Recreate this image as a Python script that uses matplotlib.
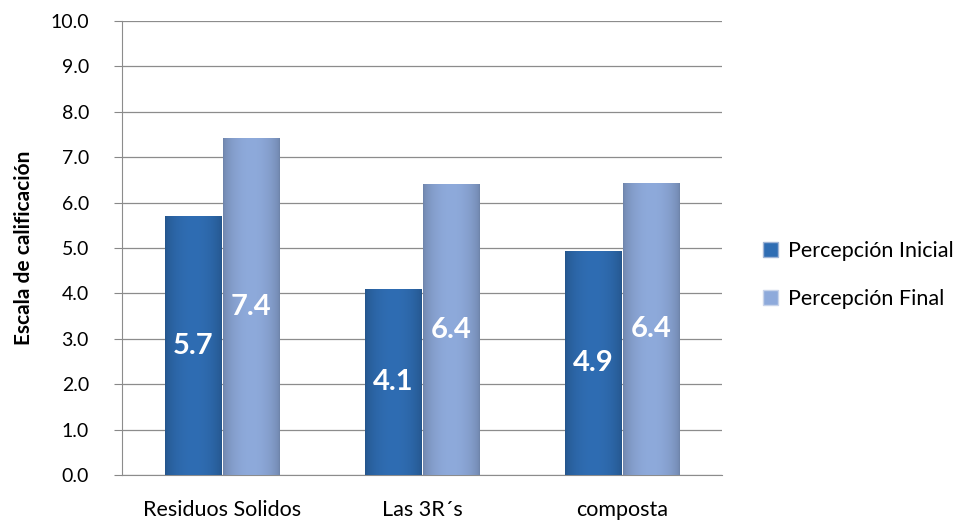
import numpy as np
import matplotlib.pyplot as plt
from matplotlib.patches import Patch

categories = ['Residuos Solidos', 'Las 3R´s', 'composta']
inicial = [5.7, 4.1, 4.94]
final = [7.42, 6.4, 6.44]
series_names = ['Percepción Inicial', 'Percepción Final']
yticks = np.arange(0, 10.1, 1.0)

plt.rcParams['font.family'] = ['Lato', 'DejaVu Sans']

c_ini = '#2f6db3'
c_fin = '#8eaadb'

fig = plt.figure(figsize=(9.63, 5.27), dpi=100)
ax = fig.add_axes([0.127, 0.0987, 0.623, 0.8615])

x = np.arange(len(categories))
w = 0.285
off = w / 2 + 0.003


def gradient_bar(ax, xc, h, color, width):
    bar = ax.bar(xc, h, width, color=color, edgecolor='none', zorder=2)[0]
    rgb = np.array(plt.matplotlib.colors.to_rgb(color))
    t = np.linspace(-1, 1, 64)
    shade = 0.78 + 0.22 * np.cos(t * np.pi / 2) ** 0.6
    img = np.clip(rgb[None, None, :] * shade[None, :, None], 0, 1)
    im = ax.imshow(img, extent=(xc - width / 2, xc + width / 2, 0, h),
                   aspect='auto', zorder=3, interpolation='bilinear')
    im.set_clip_path(bar)
    return bar


for i in range(len(categories)):
    gradient_bar(ax, x[i] - off, inicial[i], c_ini, w)
    gradient_bar(ax, x[i] + off, final[i], c_fin, w)
    ax.text(x[i] - off, inicial[i] / 2, f'{inicial[i]:.1f}', ha='center', va='center',
            color='white', fontsize=21, fontweight='bold', zorder=4)
    ax.text(x[i] + off, final[i] / 2, f'{final[i]:.1f}', ha='center', va='center',
            color='white', fontsize=21, fontweight='bold', zorder=4)

ax.set_xlim(-0.5, 2.5)
ax.set_ylim(0, 10)
ax.set_yticks(yticks)
ax.set_yticklabels([f'{v:.1f}' for v in yticks], fontsize=14)
ax.set_xticks(x)
ax.set_xticklabels(categories, fontsize=15.5)
ax.tick_params(axis='x', length=0, pad=18)
ax.tick_params(axis='y', length=6, color='#888888', pad=18)
ax.grid(axis='y', color='#8c8c8c', linewidth=0.9, zorder=0)
ax.set_axisbelow(True)
for s in ['top', 'right']:
    ax.spines[s].set_visible(False)
for s in ['left', 'bottom']:
    ax.spines[s].set_color('#8c8c8c')
ax.set_ylabel('Escala de calificación', fontsize=15, fontweight='bold', labelpad=12)

handles = [Patch(facecolor=c_ini, edgecolor='#9fb4d6'), Patch(facecolor=c_fin, edgecolor='#c8d4ea')]
fig.legend(handles, series_names, loc='center left', bbox_to_anchor=(0.772, 0.478),
           frameon=False, fontsize=15.5, handlelength=0.7, handleheight=0.7,
           handletextpad=0.45, labelspacing=1.3)

fig.savefig('out.png', dpi=100)
